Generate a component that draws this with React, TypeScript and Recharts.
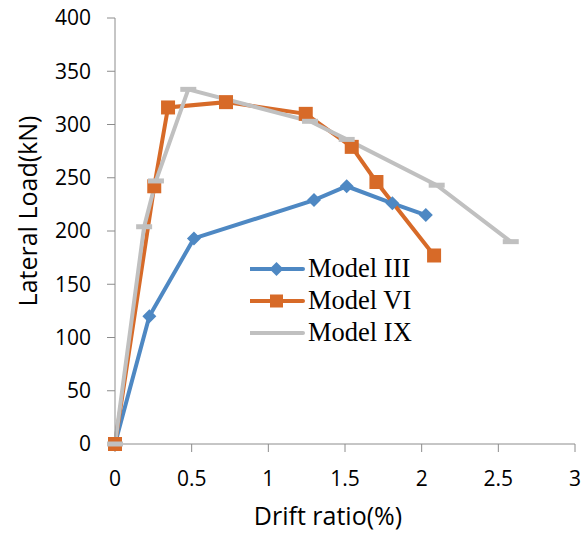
import React from 'react';
import { LineChart, Line, XAxis, YAxis, Label } from 'recharts';

const modelIIIDrift = [0, 0.224, 0.515, 1.298, 1.511, 1.809, 2.027];
const modelIIILoad = [0, 120, 193, 229, 242, 226, 215];
const modelVIDrift = [0, 0.256, 0.346, 0.724, 1.244, 1.544, 1.705, 2.081];
const modelVILoad = [0, 242, 316, 321, 310, 279, 246, 177];
const modelIXDrift = [0, 0.19, 0.267, 0.478, 1.272, 1.511, 2.098, 2.581];
const modelIXLoad = [0, 204, 247, 333, 303, 286, 243, 190];

const xTicks = [0, 0.5, 1, 1.5, 2, 2.5, 3];
const yTicks = [0, 50, 100, 150, 200, 250, 300, 350, 400];
const seriesNames = ['Model III', 'Model VI', 'Model IX'];

const BLUE = '#4E88C3';
const ORANGE = '#D76A28';
const GRAY = '#C0C0C0';

const toRows = (xs: number[], ys: number[]) => xs.map((x, i) => ({ x, y: ys[i] }));
const dataIII = toRows(modelIIIDrift, modelIIILoad);
const dataVI = toRows(modelVIDrift, modelVILoad);
const dataIX = toRows(modelIXDrift, modelIXLoad);

const Diamond = ({ cx, cy, color, r = 7 }: any) => (
  <path d={`M${cx},${cy - r}L${cx + r},${cy}L${cx},${cy + r}L${cx - r},${cy}Z`} fill={color} />
);
const Square = ({ cx, cy, color, s = 14 }: any) => (
  <rect x={cx - s / 2} y={cy - s / 2} width={s} height={s} fill={color} />
);
const Dash = ({ cx, cy, color }: any) => (
  <rect x={cx - 8} y={cy - 2.5} width={16} height={5} fill={color} />
);

const tickFont = { fontFamily: 'Open Sans', fontSize: 21, fill: '#000' };
const AXIS = '#8C8C8C';

const LegendBox = () => {
  const rows = [
    { name: seriesNames[0], color: BLUE, marker: 'diamond' },
    { name: seriesNames[1], color: ORANGE, marker: 'square' },
    { name: seriesNames[2], color: GRAY, marker: 'dash' },
  ];
  return (
    <svg width={200} height={100} style={{ display: 'block' }}>
      {rows.map((r, i) => {
        const cy = 19 + i * 32;
        return (
          <g key={r.name}>
            <line x1={0} x2={53} y1={cy} y2={cy} stroke={r.color} strokeWidth={4} strokeLinecap="round" />
            {r.marker === 'diamond' && <Diamond cx={26.5} cy={cy} color={r.color} r={7} />}
            {r.marker === 'square' && <Square cx={26.5} cy={cy} color={r.color} s={13} />}
            <text x={58} y={cy + 8} fontFamily="Liberation Serif" fontSize={26.5} fill="#000">{r.name}</text>
          </g>
        );
      })}
    </svg>
  );
};

export default function App() {
  return (
    <div style={{ position: 'absolute', left: 0, top: 0, width: 581, height: 534, background: '#fff' }}>
      <LineChart width={581} height={534} margin={{ top: 18, right: 6, left: 0, bottom: 0 }}>
        <XAxis
          type="number"
          dataKey="x"
          domain={[0, 3]}
          ticks={xTicks}
          height={90}
          tickSize={8}
          tickMargin={19}
          stroke={AXIS}
          tick={tickFont}
          allowDuplicatedCategory={false}
        >
          <Label
            content={() => (
              <text x={328} y={525} textAnchor="middle" fontFamily="Open Sans" fontSize={25} fill="#000">
                Drift ratio(%)
              </text>
            )}
          />
        </XAxis>
        <YAxis
          type="number"
          domain={[0, 400]}
          ticks={yTicks}
          width={115}
          tickSize={8}
          tickMargin={16}
          stroke={AXIS}
          tick={tickFont}
        >
          <Label
            content={() => (
              <text
                x={0}
                y={0}
                transform="translate(37,211) rotate(-90)"
                textAnchor="middle"
                fontFamily="Open Sans"
                fontSize={25}
                fill="#000"
              >
                Lateral Load(kN)
              </text>
            )}
          />
        </YAxis>
        <Line
          data={dataIII}
          dataKey="y"
          name={seriesNames[0]}
          stroke={BLUE}
          strokeWidth={4}
          isAnimationActive={false}
          dot={(p: any) => <Diamond key={`d3-${p.index}`} cx={p.cx} cy={p.cy} color={BLUE} />}
        />
        <Line
          data={dataVI}
          dataKey="y"
          name={seriesNames[1]}
          stroke={ORANGE}
          strokeWidth={4}
          isAnimationActive={false}
          dot={(p: any) => <Square key={`d6-${p.index}`} cx={p.cx} cy={p.cy} color={ORANGE} />}
        />
        <Line
          data={dataIX}
          dataKey="y"
          name={seriesNames[2]}
          stroke={GRAY}
          strokeWidth={4}
          isAnimationActive={false}
          dot={(p: any) => <Dash key={`d9-${p.index}`} cx={p.cx} cy={p.cy} color={GRAY} />}
        />
      </LineChart>
      <div style={{ position: 'absolute', left: 250, top: 250 }}>
        <LegendBox />
      </div>
    </div>
  );
}
